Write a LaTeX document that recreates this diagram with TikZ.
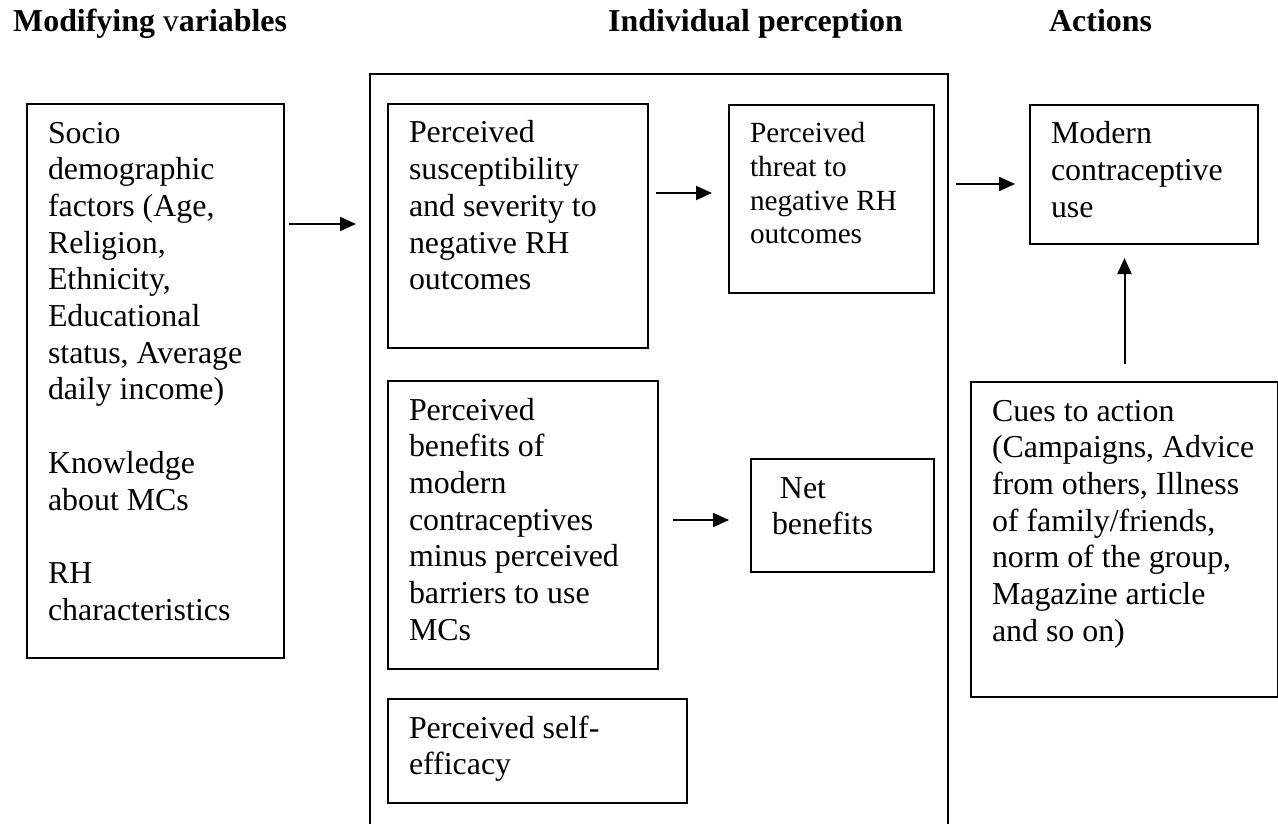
\documentclass[tikz,border=0pt]{standalone}
\usepackage{fontspec}
\setmainfont{Liberation Serif}
\usetikzlibrary{arrows.meta}

\newcommand{\boxtext}[4][39pt]{\parbox[c][#3][t]{#2}{\raggedright\leftskip=21pt\rule{0pt}{#1}#4}}

\begin{document}
\begin{tikzpicture}[x=1pt, y=-1pt,
	box/.style={draw, line width=2pt, inner sep=0pt, anchor=north west, font=\fontsize{31.9pt}{36.7pt}\selectfont},
	small/.style={font=\fontsize{29.25pt}{33.6pt}\selectfont},
	head/.style={inner sep=0pt, anchor=base west, font=\fontsize{31.9pt}{36.7pt}\selectfont\bfseries},
	flow/.style={line width=2pt, -{Triangle[length=16pt, width=14pt]}}]

	\path[use as bounding box] (0,0) rectangle (1278,824);
	\clip (0,0) rectangle (1278,824);

	\node[head] (hmod) at (13,32) {Modifying \textmd{v}ariables};
	\node[head] (hper) at (608,32) {Individual perception};
	\node[head] (hact) at (1049,32) {Actions};

	\node[box, minimum width=578pt, minimum height=765pt] (perception) at (369,73) {};
	\node[box] (socio) at (26,103) {\boxtext{257pt}{554pt}{Socio\\demographic\\factors (Age,\\Religion,\\Ethnicity,\\Educational\\status, Average\\daily income)\\[36.7pt]Knowledge\\about MCs\\[36.7pt]RH\\characteristics}};
	\node[box] (susc) at (387,103) {\boxtext{260pt}{244pt}{Perceived\\susceptibility\\and severity to\\negative RH\\outcomes}};
	\node[box, small] (threat) at (728,104) {\boxtext[38pt]{205pt}{188pt}{Perceived\\threat to\\negative RH\\outcomes}};
	\node[box] (modern) at (1029,104) {\boxtext{228pt}{139pt}{Modern\\contraceptive\\use}};
	\node[box] (benefits) at (387,380) {\boxtext{270pt}{288pt}{Perceived\\benefits of\\modern\\contraceptives\\minus perceived\\barriers to use\\MCs}};
	\node[box] (net) at (750,458) {\boxtext{183pt}{113pt}{~Net\\benefits}};
	\node[box] (selfeff) at (387,698) {\boxtext{299pt}{104pt}{Perceived self-\\efficacy}};
	\node[box] (cues) at (970,381) {\boxtext{307pt}{315pt}{Cues to action\\(Campaigns, Advice\\from others, Illness\\of family/friends,\\norm of the group,\\Magazine article\\and so on)}};

	\draw[flow, shorten <=4pt, shorten >=13pt] (socio.east |- 0,224) -- (perception.west |- 0,224);
	\draw[flow, shorten <=7pt, shorten >=16pt] (susc.east |- 0,193) -- (threat.west |- 0,193);
	\draw[flow, shorten <=14pt, shorten >=21pt] (benefits.east |- 0,520) -- (net.west |- 0,520);
	\draw[flow, shorten <=7pt, shorten >=14pt] (perception.east |- 0,184) -- (modern.west |- 0,184);
	\draw[flow, shorten <=17pt, shorten >=13pt] (cues.north) -- (cues.north |- modern.south);
\end{tikzpicture}
\end{document}
